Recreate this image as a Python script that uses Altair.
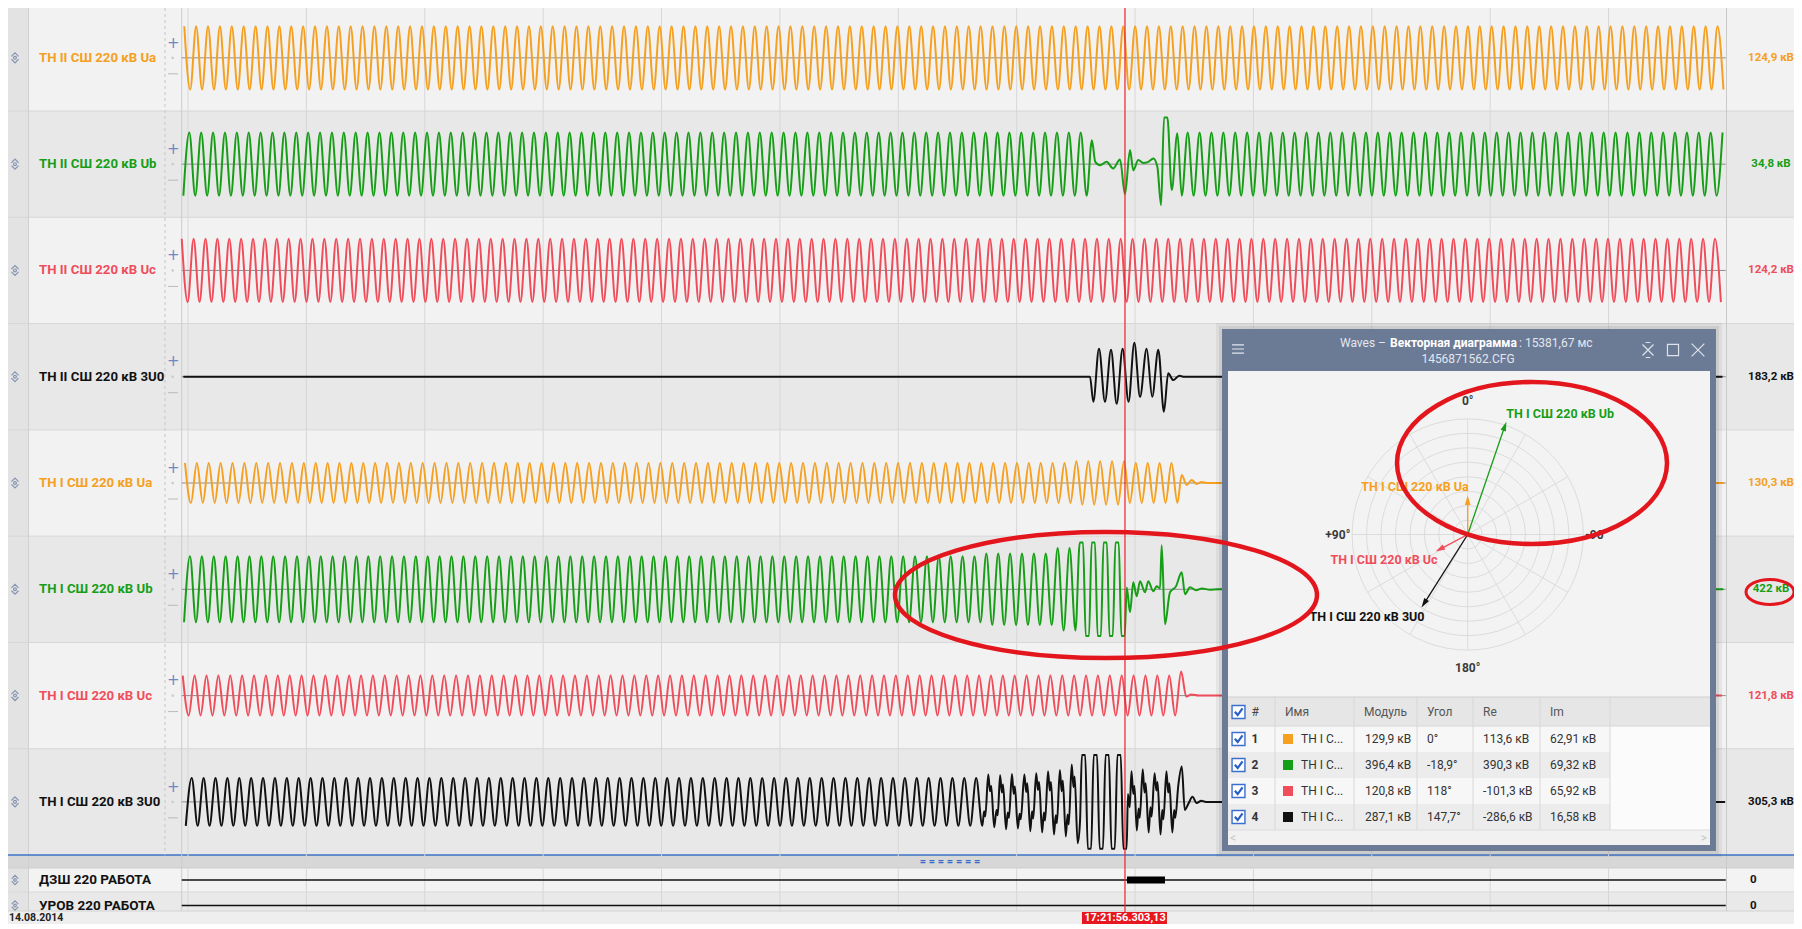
import math
import altair as alt
import pandas as pd

alt.data_transformers.disable_max_rows()

# ============================================================ DATA
CHANNEL_NAMES = [
    "ТН II СШ 220 кВ Ua", "ТН II СШ 220 кВ Ub", "ТН II СШ 220 кВ Uc", "ТН II СШ 220 кВ 3U0",
    "ТН I СШ 220 кВ Ua", "ТН I СШ 220 кВ Ub", "ТН I СШ 220 кВ Uc", "ТН I СШ 220 кВ 3U0",
]
CHANNEL_PHASE = ["a", "b", "c", "0", "a", "b", "c", "0"]
CURSOR_READOUT = ["124,9 кВ", "34,8 кВ", "124,2 кВ", "183,2 кВ",
                  "130,3 кВ", "422 кВ", "121,8 кВ", "305,3 кВ"]
FREQ_HZ = 49.8
FIRST_PEAK_MS = [-6.3, 2.2, -10.6, 12.2, -5.1, 3.4, -8.9, 6.3]
DISPLAY_KV = [299, 299, 299, 299, 478, 290, 478, 399]     # kV shown at half row height
REC_START_MS, REC_END_MS = -10.6, 2598.0
GRID_MS = [0, 200, 400, 600, 800, 1000, 1200, 1400, 1600, 1800, 2000, 2200, 2400]
CURSOR_MS = 1583.0
CURSOR_LABEL = "17:21:56.303,13"
DATE_LABEL = "14.08.2014"

# steady sections (from ms, to ms, peak kV) and explicit (ms, kV) points read from the record
II_UA_STEADY = [(-11, 2598, 178)]
II_UA_POINTS = []
II_UB_STEADY = [(-11, 1522, 178), (1675, 2598, 178)]
II_UB_POINTS = [(1527.1, 135), (1532.8, 13), (1541.0, -6), (1552.0, 13), (1563.0, -24),
                (1574.6, 26), (1583.0, -169), (1591.5, 79), (1597.0, -34), (1605.5, 23),
                (1614.0, 6), (1622.4, 13), (1631.0, 32), (1637.7, -15), (1644.0, -231),
                (1651.8, 266), (1662.0, -146), (1671.5, 174)]
II_UC_STEADY = [(-11, 2598, 178)]
II_UC_POINTS = []
II_3U0_STEADY = [(-11, 1520, 0), (1685, 2598, 0)]
II_3U0_POINTS = [(1523.9, 0), (1529.5, -141), (1539.1, 158), (1549.2, -141), (1559.4, 152),
                 (1569.0, -152), (1579.0, 158), (1589.0, -141), (1598.8, 191), (1608.4, -113),
                 (1619.6, 158), (1629.0, -113), (1639.3, 152), (1648.8, -197), (1656.0, 19),
                 (1664.5, -19), (1674.7, 6), (1681.5, 0)]
I_UA_STEADY = [(-11, 1500, 180), (1500, 1590, 195), (1590, 1675, 180), (1720, 2598, 0)]
I_UA_POINTS = [(1678.8, 72), (1687.3, -18), (1695.7, 27), (1704.2, -9), (1712.6, 9)]
I_UB_STEADY = [(-11, 1340, 180), (1340, 1460, 195), (1460, 1500, 225), (1500, 1585, 420),
               (1735, 2598, 0)]
I_UB_POINTS = [(1586.0, 10), (1591.5, -125), (1597.0, 38), (1602.8, -38), (1608.4, 44),
               (1616.8, -16), (1622.4, 44), (1630.8, -11), (1636.6, 16), (1642.2, 5),
               (1645.0, 240), (1650.6, -191), (1659.0, -16), (1669.2, 16), (1678.8, 93),
               (1684.4, -27), (1692.9, 11), (1703.0, -5), (1713.0, 5), (1726.6, -3)]
I_UC_STEADY = [(-11, 1670, 180), (1700, 2598, 0)]
I_UC_POINTS = [(1677.8, 216), (1686.5, -9), (1694.9, 9)]
I_3U0_STEADY = [(-11, 1337, 180), (1725, 2598, 0)]
I_3U0_POINTS = [(1342, -180), (1345, -70), (1347, -110), (1352, 205), (1355, 80), (1357, 120),
                (1362, -190), (1366, -60), (1368, -100), (1372, 200), (1375, 70), (1377, 130),
                (1382, -205), (1385, -80), (1387, -120), (1392, 210), (1395, 60), (1397, 115),
                (1402, -200), (1405, -90), (1407, -130), (1413, 205), (1416, 75), (1418, 140),
                (1423, -220), (1426, -70), (1428, -125), (1433, 215), (1436, 90), (1438, 150),
                (1443, -230), (1446, -80), (1448, -140), (1453, 230), (1456, 85), (1458, 150),
                (1463, -245), (1466, -100), (1468, -160), (1473, 240), (1476, 80), (1478, 160),
                (1483, -260), (1486, -95), (1488, -170), (1493, 280), (1496, 110), (1498, 190),
                (1503, -310), (1507, -150), (1513, 420), (1523, -420), (1533, 420), (1543, -420),
                (1553, 420), (1563, -420), (1573, 420), (1583, -420),
                (1588, 60), (1591, -40), (1594, 230), (1597, 60), (1599, 120), (1603, -215),
                (1606, -50), (1608, -120), (1613, 245), (1616, 70), (1618, 140), (1623, -230),
                (1626, -40), (1628, -110), (1633, 215), (1636, 85), (1638, 150), (1643, -245),
                (1646, -60), (1648, -130), (1653, 230), (1656, 70), (1658, 140), (1663, -230),
                (1666, -60), (1668, -120), (1673, 120), (1679, 265), (1684, -60), (1690, -15),
                (1697, 38), (1704, -8), (1712, 8), (1720, 0)]
STEADY = [II_UA_STEADY, II_UB_STEADY, II_UC_STEADY, II_3U0_STEADY,
          I_UA_STEADY, I_UB_STEADY, I_UC_STEADY, I_3U0_STEADY]
POINTS = [II_UA_POINTS, II_UB_POINTS, II_UC_POINTS, II_3U0_POINTS,
          I_UA_POINTS, I_UB_POINTS, I_UC_POINTS, I_3U0_POINTS]

DIGITAL_NAMES = ["ДЗШ 220 РАБОТА", "УРОВ 220 РАБОТА"]
DIGITAL_READOUT = ["0", "0"]
DIGITAL_ON_MS = [[(1586.4, 1650.6)], []]

VECTOR_TIME = "15381,67 мс"
VECTOR_FILE = "1456871562.CFG"
VEC_NAMES = ["ТН I СШ 220 кВ Ua", "ТН I СШ 220 кВ Ub", "ТН I СШ 220 кВ Uc", "ТН I СШ 220 кВ 3U0"]
VEC_PHASE = ["a", "b", "c", "0"]
VEC_SHORT = ["ТН I С...", "ТН I С...", "ТН I С...", "ТН I С..."]
VEC_MOD_KV = [129.9, 396.4, 120.8, 287.1]
VEC_ANGLE_DEG = [0.0, -18.9, 118.0, 147.7]
VEC_RE_KV = [113.6, 390.3, -101.3, -286.6]
VEC_IM_KV = [62.91, 69.32, 65.92, 16.58]
POLAR_RING_KV = [48, 96, 144, 192, 240, 288, 336, 384]
POLAR_SPOKE_DEG = [0, 30, 60, 90, 120, 150, 180, 210, 240, 270, 300, 330]
ANGLE_LABELS = ["0°", "+90°", "180°", "-90°"]
ANGLE_LABEL_DEG = [0, 90, 180, -90]
TABLE_HEADERS = ["#", "Имя", "Модуль", "Угол", "Re", "Im"]

PHASE_COLOR = {"a": "#f5a020", "b": "#179e17", "c": "#f04d5b", "0": "#111111"}

# ============================================================ LAYOUT
W, H = 1786, 916
M = 8


def cx(x):
    return x - M


def cy(y):
    return y - M


PX_PER_MS = 0.5919
T0_X = cx(188.0)
XS = alt.Scale(domain=[-T0_X / PX_PER_MS, (W - T0_X) / PX_PER_MS], range=[0, W])
ROW_H = 106.29
ROW0 = cy(4.71)
YS = alt.Scale(domain=[(0 - ROW0) / ROW_H, (H - ROW0) / ROW_H], range=[0, H])


def u_at(page_y):
    return (cy(page_y) - ROW0) / ROW_H


# bottom section (page y)
Y_BLUE, Y_STRIP_END, Y_DIG_SEP, Y_STATUS, Y_END = 855, 868, 892, 911, 930
Y_DIG = [880, 905.5]
Y_STATUS_TEXT = 918

CLIP_FRAC = 0.88
PLATEAU_MS = 2.8
FONT = "Roboto"
WAVE_W = 2.0
CB_BOX = "M-0.8,-0.8L0.8,-0.8L0.8,0.8L-0.8,0.8Z"
CB_TICK = "M-0.45,-0.02L-0.1,0.38L0.5,-0.45"


def tX(f):
    return alt.X(f, type="quantitative", scale=XS, axis=None)


def uY(f):
    return alt.Y(f, type="quantitative", scale=YS, axis=None)


def pX(f):
    return alt.X(f, type="quantitative", scale=None, axis=None)


def pY(f):
    return alt.Y(f, type="quantitative", scale=None, axis=None)


def rect_layer(items):
    df = pd.DataFrame(items, columns=["x", "x2", "y", "y2", "fill", "op"])
    df[["x", "x2"]] -= M
    df[["y", "y2"]] -= M
    return alt.Chart(df).mark_rect().encode(
        x=pX("x"), x2="x2", y=pY("y"), y2="y2",
        color=alt.Color("fill:N", scale=None), opacity=alt.Opacity("op:Q", scale=None))


def rule_layer(items, dash=None):
    df = pd.DataFrame(items, columns=["x", "x2", "y", "y2", "stroke", "w"])
    df[["x", "x2"]] -= M
    df[["y", "y2"]] -= M
    mk = {} if dash is None else {"strokeDash": dash}
    return alt.Chart(df).mark_rule(**mk).encode(
        x=pX("x"), x2="x2", y=pY("y"), y2="y2",
        color=alt.Color("stroke:N", scale=None), strokeWidth=alt.StrokeWidth("w:Q", scale=None))


def text_layer(items, **mk):
    df = pd.DataFrame(items, columns=["x", "y", "s", "c"])
    df["x"] -= M
    df["y"] -= M
    mk.setdefault("font", FONT)
    return alt.Chart(df).mark_text(baseline="middle", **mk).encode(
        x=pX("x"), y=pY("y"), text="s:N", color=alt.Color("c:N", scale=None))


def icon_layer(items, shape, size, color, sw=1.2, filled=False):
    df = pd.DataFrame(items, columns=["x", "y"])
    df["x"] -= M
    df["y"] -= M
    return alt.Chart(df).mark_point(shape=shape, size=size, filled=filled, color=color,
                                    strokeWidth=sw, opacity=1).encode(x=pX("x"), y=pY("y"))


L = []

# ---------------------------------------------------------------- row backgrounds
rows = pd.DataFrame({"r": list(range(8))})
rows["u0"] = rows.r.astype(float)
rows["u1"] = rows.r + 1.0
rows["uc"] = rows.r + 0.5
rows["fill"] = ["#f2f2f2" if r % 2 == 0 else "#e8e8e8" for r in rows.r]
rows["name"] = CHANNEL_NAMES
rows["readout"] = CURSOR_READOUT
rows["col"] = [PHASE_COLOR[p] for p in CHANNEL_PHASE]
rows["uplus"] = rows.uc - 15.3 / ROW_H
rows["uminus"] = rows.uc + 16.0 / ROW_H
L.append(alt.Chart(rows).mark_rect().encode(
    x=alt.value(0), x2=alt.value(W), y=uY("u0"), y2="u1", color=alt.Color("fill:N", scale=None)))

L.append(rect_layer([
    (8, 28, 8, Y_BLUE, "#e3e3e3", 1),
    (8, 1802, Y_BLUE, Y_STRIP_END, "#d7d7d7", 1),
    (8, 1802, Y_STRIP_END, Y_DIG_SEP, "#f3f3f3", 1),
    (8, 1802, Y_DIG_SEP, Y_STATUS, "#e9e9e9", 1),
    (8, 28, Y_STRIP_END, Y_STATUS, "#e3e3e3", 1),
    (8, 1802, Y_STATUS, Y_END, "#eeeeee", 1),
]))

# separators
sep = pd.DataFrame({"u": [1.0, 2, 3, 4, 5, 6, 7]})
L.append(alt.Chart(sep).mark_rule(color="#d6d6d6", strokeWidth=1).encode(
    x=alt.value(0), x2=alt.value(W), y=uY("u")))
L.append(rule_layer([
    (8, 1802, Y_STRIP_END, Y_STRIP_END, "#cdcdcd", 1),
    (8, 1802, Y_DIG_SEP, Y_DIG_SEP, "#d9d9d9", 1),
    (8, 1802, Y_STATUS, Y_STATUS, "#d2d2d2", 1),
    (28.5, 28.5, 8, Y_STATUS, "#d0d0d0", 1),
    (1726.5, 1726.5, 8, Y_STATUS, "#c9c9c9", 1),
    (8, 1802, Y_BLUE, Y_BLUE, "#3c73c6", 1.6),
]))
L.append(rule_layer([(165, 165, 8, Y_BLUE, "#c6c6c6", 1)], dash=[3, 3]))

# grid (time)
grid = pd.DataFrame({"t": GRID_MS})
grid["u0"] = u_at(8)
grid["u1"] = u_at(Y_STATUS)
L.append(alt.Chart(grid).mark_rule(color="#d7d7d7", strokeWidth=1).encode(x=tX("t"), y=uY("u0"), y2="u1"))
frame = pd.DataFrame({"t": [REC_START_MS], "u0": [u_at(8)], "u1": [u_at(Y_STATUS)]})
L.append(alt.Chart(frame).mark_rule(color="#cbcbcb", strokeWidth=1).encode(x=tX("t"), y=uY("u0"), y2="u1"))

# zero lines
zl = rows[["uc"]].copy()
zl["t0"] = REC_START_MS
zl["t1"] = REC_END_MS
L.append(alt.Chart(zl).mark_rule(color="#8d8d8d", strokeWidth=1).encode(x=tX("t0"), x2="t1", y=uY("uc")))

# row controls
L.append(alt.Chart(rows).mark_text(text="+", font="DejaVu Sans", fontSize=15, color="#6f87c3",
                                   baseline="middle").encode(x=alt.value(cx(173.3)), y=uY("uplus")))
L.append(alt.Chart(rows).mark_point(shape="square", size=5, filled=True, color="#c9c9c9",
                                    opacity=1).encode(x=alt.value(cx(172.7)), y=uY("uc")))
L.append(alt.Chart(rows).mark_rule(color="#b9b9b9", strokeWidth=1).encode(
    x=alt.value(cx(168)), x2=alt.value(cx(178)), y=uY("uminus")))
ICON = ("M-0.5,-0.2L0,-0.7L0.5,-0.2M-0.5,0.2L0,0.7L0.5,0.2"
        "M-0.2,0A0.2,0.2,0,1,0,0.2,0A0.2,0.2,0,1,0,-0.2,0")
L.append(alt.Chart(rows).mark_point(shape=ICON, size=200, filled=False, color="#8795b1",
                                    strokeWidth=1.2, opacity=1).encode(x=alt.value(cx(15)), y=uY("uc")))
L.append(icon_layer([(15, Y_DIG[0]), (15, Y_DIG[1])], ICON, 170, "#8795b1"))

# ---------------------------------------------------------------- waveforms
HALF_MS = 1000.0 / FREQ_HZ / 2.0
recs = []
for r in range(8):
    p = FIRST_PEAK_MS[r]
    pts = []
    for a, b, amp in STEADY[r]:
        k = math.ceil((a - p) / HALF_MS)
        while p + k * HALF_MS < b:
            pts.append((p + k * HALF_MS, amp if k % 2 == 0 else -amp))
            k += 1
    pts.extend(POINTS[r])
    pts.sort()
    clip = CLIP_FRAC * DISPLAY_KV[r]
    for t, v in pts:
        if abs(v) > clip:
            s = 1 if v > 0 else -1
            seq = [(t - PLATEAU_MS, s * clip), (t + PLATEAU_MS, s * clip)]
        else:
            seq = [(t, v)]
        for tt, vv in seq:
            recs.append({"ch": r, "t": tt, "v": vv,
                         "u": r + 0.5 - 0.5 * vv / DISPLAY_KV[r],
                         "col": PHASE_COLOR[CHANNEL_PHASE[r]]})
wave = pd.DataFrame(recs)
L.append(alt.Chart(wave).mark_line(interpolate="monotone", strokeWidth=WAVE_W, strokeJoin="round").encode(
    x=tX("t"), y=uY("u"), color=alt.Color("col:N", scale=None), detail="ch:N", order="t:Q"))

# ---------------------------------------------------------------- digital channels
dig = pd.DataFrame({"name": DIGITAL_NAMES, "val": DIGITAL_READOUT,
                    "u": [u_at(Y_DIG[0]), u_at(Y_DIG[1])]})
dig["t0"] = REC_START_MS
dig["t1"] = REC_END_MS
L.append(alt.Chart(dig).mark_rule(color="#111111", strokeWidth=1.3).encode(x=tX("t0"), x2="t1", y=uY("u")))
ev = []
for i, spans in enumerate(DIGITAL_ON_MS):
    for a, b in spans:
        ev.append({"t0": a, "t1": b, "u0": dig.u[i] - 3.5 / ROW_H, "u1": dig.u[i] + 3.5 / ROW_H})
L.append(alt.Chart(pd.DataFrame(ev)).mark_rect(color="#000000").encode(
    x=tX("t0"), x2="t1", y=uY("u0"), y2="u1"))

# ---------------------------------------------------------------- texts of the main view
L.append(alt.Chart(rows).mark_text(align="left", baseline="middle", font=FONT, fontSize=13.2,
                                   fontWeight="bold").encode(
    x=alt.value(cx(39)), y=uY("uc"), text="name:N", color=alt.Color("col:N", scale=None)))
L.append(alt.Chart(rows).mark_text(align="center", baseline="middle", font=FONT, fontSize=11.5,
                                   fontWeight="bold").encode(
    x=alt.value(cx(1771)), y=uY("uc"), text="readout:N", color=alt.Color("col:N", scale=None)))
L.append(alt.Chart(dig).mark_text(align="left", baseline="middle", font=FONT, fontSize=13.5,
                                  fontWeight="bold", color="#111111").encode(
    x=alt.value(cx(39)), y=uY("u"), text="name:N"))
L.append(alt.Chart(dig).mark_text(align="left", baseline="middle", font=FONT, fontSize=11.5,
                                  fontWeight="bold", color="#111111").encode(
    x=alt.value(cx(1750)), y=uY("u"), text="val:N"))
L.append(text_layer([(950, 861.5, "= = = = = = =", "#3a6bc8")], align="center", fontSize=11,
                    fontWeight="bold"))
L.append(text_layer([(9, Y_STATUS_TEXT, DATE_LABEL, "#222222")], align="left", fontSize=10.5,
                    fontWeight="bold"))

# ---------------------------------------------------------------- cursor
cur = pd.DataFrame({"t": [CURSOR_MS], "u0": [u_at(8)], "u1": [u_at(Y_STATUS + 1)],
                    "b0": [u_at(Y_STATUS + 1)], "b1": [u_at(Y_END)], "ul": [u_at(Y_STATUS_TEXT)],
                    "lab": [CURSOR_LABEL]})
cur["tl"] = cur.t - 43.0 / PX_PER_MS
cur["tr"] = cur.t + 42.0 / PX_PER_MS
L.append(alt.Chart(cur).mark_rule(color="#e8232a", strokeWidth=1.2).encode(x=tX("t"), y=uY("u0"), y2="u1"))
L.append(alt.Chart(cur).mark_rect(color="#e8161e").encode(x=tX("tl"), x2="tr", y=uY("b0"), y2="b1"))
L.append(alt.Chart(cur).mark_text(color="#ffffff", font=FONT, fontSize=11, fontWeight="bold",
                                  baseline="middle").encode(x=tX("t"), y=uY("ul"), text="lab:N"))

# ---------------------------------------------------------------- popup window
L.append(rect_layer([
    (1216, 1722, 323, 857, "#000000", 0.05),
    (1219, 1719, 326, 854, "#000000", 0.07),
    (1222, 1716, 329, 851, "#6b7a95", 1),
    (1228, 1710, 371, 845, "#f3f3f3", 1),
    (1228, 1710, 697, 726, "#e6e6e6", 1),
    (1610, 1710, 726, 830, "#fbfbfb", 1),
    (1228, 1710, 830, 845, "#f1f1f1", 1),
]))
L.append(text_layer([(1386, 342.5, "Waves –", "#e3e7ef")], align="right", fontSize=12))
L.append(text_layer([(1390, 342.5, "Векторная диаграмма", "#ffffff")], align="left", fontSize=12,
                    fontWeight="bold"))
L.append(text_layer([(1519, 342.5, ":  " + VECTOR_TIME, "#e3e7ef")], align="left", fontSize=12))
L.append(text_layer([(1468, 358.5, VECTOR_FILE, "#e3e7ef")], align="center", fontSize=12))
L.append(icon_layer([(1238, 349)], "M-0.8,-0.55L0.8,-0.55M-0.8,0L0.8,0M-0.8,0.55L0.8,0.55", 220, "#e3e7ef"))
L.append(icon_layer([(1648, 350)], "M-0.7,-0.7L0.7,0.7M0.7,-0.7L-0.7,0.7M-0.3,-0.95L0.3,-0.95M-0.3,0.95L0.3,0.95",
                    250, "#dfe3ea"))
L.append(icon_layer([(1673, 350)], "M-0.7,-0.7L0.7,-0.7L0.7,0.7L-0.7,0.7Z", 250, "#dfe3ea"))
L.append(icon_layer([(1698, 350)], "M-0.7,-0.7L0.7,0.7M0.7,-0.7L-0.7,0.7", 330, "#dfe3ea"))

# polar diagram
PCX, PCY = cx(1467.7), cy(534.5)
PR_PX = 120.4
PXS = alt.Scale(domain=[-400, 400], range=[PCX - PR_PX, PCX + PR_PX])
PYS = alt.Scale(domain=[-400, 400], range=[PCY + PR_PX, PCY - PR_PX])


def kx(f):
    return alt.X(f, type="quantitative", scale=PXS, axis=None)


def ky(f):
    return alt.Y(f, type="quantitative", scale=PYS, axis=None)


rings = pd.DataFrame({"r": POLAR_RING_KV})
rings["x0"] = 0.0
rings["y0"] = 0.0
L.append(alt.Chart(rings).mark_point(shape="circle", filled=False, color="#dcdcdc", strokeWidth=1,
                                     opacity=1).encode(
    x=kx("x0"), y=ky("y0"),
    size=alt.Size("r:Q", scale=alt.Scale(type="pow", exponent=2, domain=[0, 400],
                                         range=[0, (2 * PR_PX) ** 2]), legend=None)))
rmax = max(POLAR_RING_KV)
spokes = pd.DataFrame({"a": POLAR_SPOKE_DEG})
spokes["x0"] = 0.0
spokes["y0"] = 0.0
spokes["x1"] = [-rmax * math.sin(math.radians(a)) for a in spokes.a]
spokes["y1"] = [rmax * math.cos(math.radians(a)) for a in spokes.a]
L.append(alt.Chart(spokes).mark_rule(color="#dcdcdc", strokeWidth=1).encode(
    x=kx("x0"), y=ky("y0"), x2="x1", y2="y1"))

ANGLE_LABEL_R = [442, 390, 442, 390]
ANGLE_LABEL_ALIGN = ["center", "right", "center", "left"]
for s, a, rr, al in zip(ANGLE_LABELS, ANGLE_LABEL_DEG, ANGLE_LABEL_R, ANGLE_LABEL_ALIGN):
    d = pd.DataFrame({"s": [s], "x": [-rr * math.sin(math.radians(a))],
                      "y": [rr * math.cos(math.radians(a))]})
    L.append(alt.Chart(d).mark_text(align=al, baseline="middle", font=FONT, fontSize=12,
                                    fontWeight="bold", color="#3a3a3a").encode(
        x=kx("x"), y=ky("y"), text="s:N"))

ARROW_HALF_KV = 15.8
vec = pd.DataFrame({"name": VEC_NAMES, "m": VEC_MOD_KV, "a": VEC_ANGLE_DEG,
                    "col": [PHASE_COLOR[p] for p in VEC_PHASE]})
vec["sx"] = [-math.sin(math.radians(a)) for a in vec.a]
vec["sy"] = [math.cos(math.radians(a)) for a in vec.a]
vec["x0"] = 0.0
vec["y0"] = 0.0
vec["xt"] = vec.m * vec.sx
vec["yt"] = vec.m * vec.sy
vec["xl"] = (vec.m - 1.3 * ARROW_HALF_KV) * vec.sx
vec["yl"] = (vec.m - 1.3 * ARROW_HALF_KV) * vec.sy
vec["xa"] = (vec.m - ARROW_HALF_KV) * vec.sx
vec["ya"] = (vec.m - ARROW_HALF_KV) * vec.sy
vec["rot"] = [(-a) % 360 for a in vec.a]
L.append(alt.Chart(vec).mark_rule(strokeWidth=1.3).encode(
    x=kx("x0"), y=ky("y0"), x2="xl", y2="yl", color=alt.Color("col:N", scale=None)))
L.append(alt.Chart(vec).mark_point(shape="M0,-1L0.6,1L-0.6,1Z", size=90, filled=True, opacity=1,
                                   strokeWidth=0).encode(
    x=kx("xa"), y=ky("ya"), color=alt.Color("col:N", scale=None), angle=alt.Angle("rot:Q", scale=None)))
VEC_LABEL_STYLE = [("right", 1, -8), ("left", 0, -8), ("right", 2, 8), ("right", 3, 9)]
for i, (al, dx, dy) in enumerate(VEC_LABEL_STYLE):
    L.append(alt.Chart(vec.iloc[[i]]).mark_text(align=al, baseline="middle", dx=dx, dy=dy, font=FONT,
                                                fontSize=12.5, fontWeight="bold").encode(
        x=kx("xt"), y=ky("yt"), text="name:N", color=alt.Color("col:N", scale=None)))

# table


def fmt(v, unit):
    return ("%g" % v).replace(".", ",") + unit


TY = alt.Scale(domain=[0, 3], range=[cy(739), cy(817)])
tab = pd.DataFrame({"i": [0, 1, 2, 3], "num": ["1", "2", "3", "4"], "name": VEC_SHORT,
                    "col": [PHASE_COLOR[p] for p in VEC_PHASE],
                    "mod": [fmt(v, " кВ") for v in VEC_MOD_KV],
                    "ang": [fmt(v, "°") for v in VEC_ANGLE_DEG],
                    "re": [fmt(v, " кВ") for v in VEC_RE_KV],
                    "im": [fmt(v, " кВ") for v in VEC_IM_KV]})
tab["i0"] = tab.i - 0.5
tab["i1"] = tab.i + 0.5
tab["bg"] = ["#f7f7f7" if i % 2 == 0 else "#ececec" for i in tab.i]
L.append(alt.Chart(tab).mark_rect().encode(
    x=alt.value(cx(1228)), x2=alt.value(cx(1610)),
    y=alt.Y("i0:Q", scale=TY, axis=None), y2="i1", color=alt.Color("bg:N", scale=None)))
L.append(rule_layer([(x, x, 697, 830, "#d8d8d8", 1) for x in [1275, 1354, 1417, 1473, 1540, 1610]] +
                    [(1228, 1710, 697, 697, "#cfcfcf", 1), (1228, 1710, 726, 726, "#d8d8d8", 1),
                     (1228, 1710, 830, 830, "#dddddd", 1)]))
L.append(text_layer([(1251.5, 712, TABLE_HEADERS[0], "#444444"), (1285, 712, TABLE_HEADERS[1], "#555555"),
                     (1364, 712, TABLE_HEADERS[2], "#555555"), (1427, 712, TABLE_HEADERS[3], "#555555"),
                     (1483, 712, TABLE_HEADERS[4], "#555555"), (1550, 712, TABLE_HEADERS[5], "#555555")],
                    align="left", fontSize=12))
# checkboxes (header + rows)
L.append(rect_layer([(1232, 1245, 705.5, 718.5, "#ffffff", 1)]))
L.append(icon_layer([(1238.5, 712)], CB_BOX, 260, "#3a6fcf", sw=1.4))
L.append(icon_layer([(1238.5, 712)], CB_TICK, 260, "#2a5fc4", sw=2.2))
L.append(alt.Chart(tab).mark_point(shape="square", size=169, filled=True, color="#ffffff", opacity=1).encode(
    x=alt.value(cx(1238.5)), y=alt.Y("i:Q", scale=TY, axis=None)))
L.append(alt.Chart(tab).mark_point(shape=CB_BOX, size=260, filled=False, color="#3a6fcf", strokeWidth=1.4,
                                   opacity=1).encode(
    x=alt.value(cx(1238.5)), y=alt.Y("i:Q", scale=TY, axis=None)))
L.append(alt.Chart(tab).mark_point(shape=CB_TICK, size=260, filled=False, color="#2a5fc4", strokeWidth=2.2,
                                   opacity=1).encode(
    x=alt.value(cx(1238.5)), y=alt.Y("i:Q", scale=TY, axis=None)))
L.append(text_layer([(1233, 838, "<", "#c6c6c6"), (1704, 838, ">", "#c6c6c6")], align="center",
                    fontSize=12))
L.append(alt.Chart(tab).mark_text(align="left", baseline="middle", font=FONT, fontSize=12,
                                  fontWeight="bold", color="#333333").encode(
    x=alt.value(cx(1251.5)), y=alt.Y("i:Q", scale=TY, axis=None), text="num:N"))
L.append(alt.Chart(tab).mark_square(size=100, opacity=1).encode(
    x=alt.value(cx(1288)), y=alt.Y("i:Q", scale=TY, axis=None), color=alt.Color("col:N", scale=None)))
for col, xp in [("name", 1301), ("mod", 1365), ("ang", 1427), ("re", 1483), ("im", 1550)]:
    L.append(alt.Chart(tab).mark_text(align="left", baseline="middle", font=FONT, fontSize=12,
                                      color="#333333").encode(
        x=alt.value(cx(xp)), y=alt.Y("i:Q", scale=TY, axis=None), text=col + ":N"))

# ---------------------------------------------------------------- hand-drawn red ellipses
for (ex, ey, rx, ry, sw) in [(1106, 595, 211, 63, 4.5), (1532, 463, 135, 81, 4.5),
                             (1770, 592, 24, 12.5, 3)]:
    q = ry / rx
    path = "M-1,0A1,%.4f,0,1,0,1,0A1,%.4f,0,1,0,-1,0Z" % (q, q)
    L.append(icon_layer([(ex, ey)], path, (2 * rx) ** 2, "#e3161d", sw=sw))

chart = alt.layer(*L).properties(
    width=W, height=H, padding=0, autosize=alt.AutoSizeParams(type="none")
).resolve_scale(x="independent", y="independent", size="independent").configure_view(stroke=None)

chart.save("out.html", embed_options={"renderer": "svg", "actions": False})
